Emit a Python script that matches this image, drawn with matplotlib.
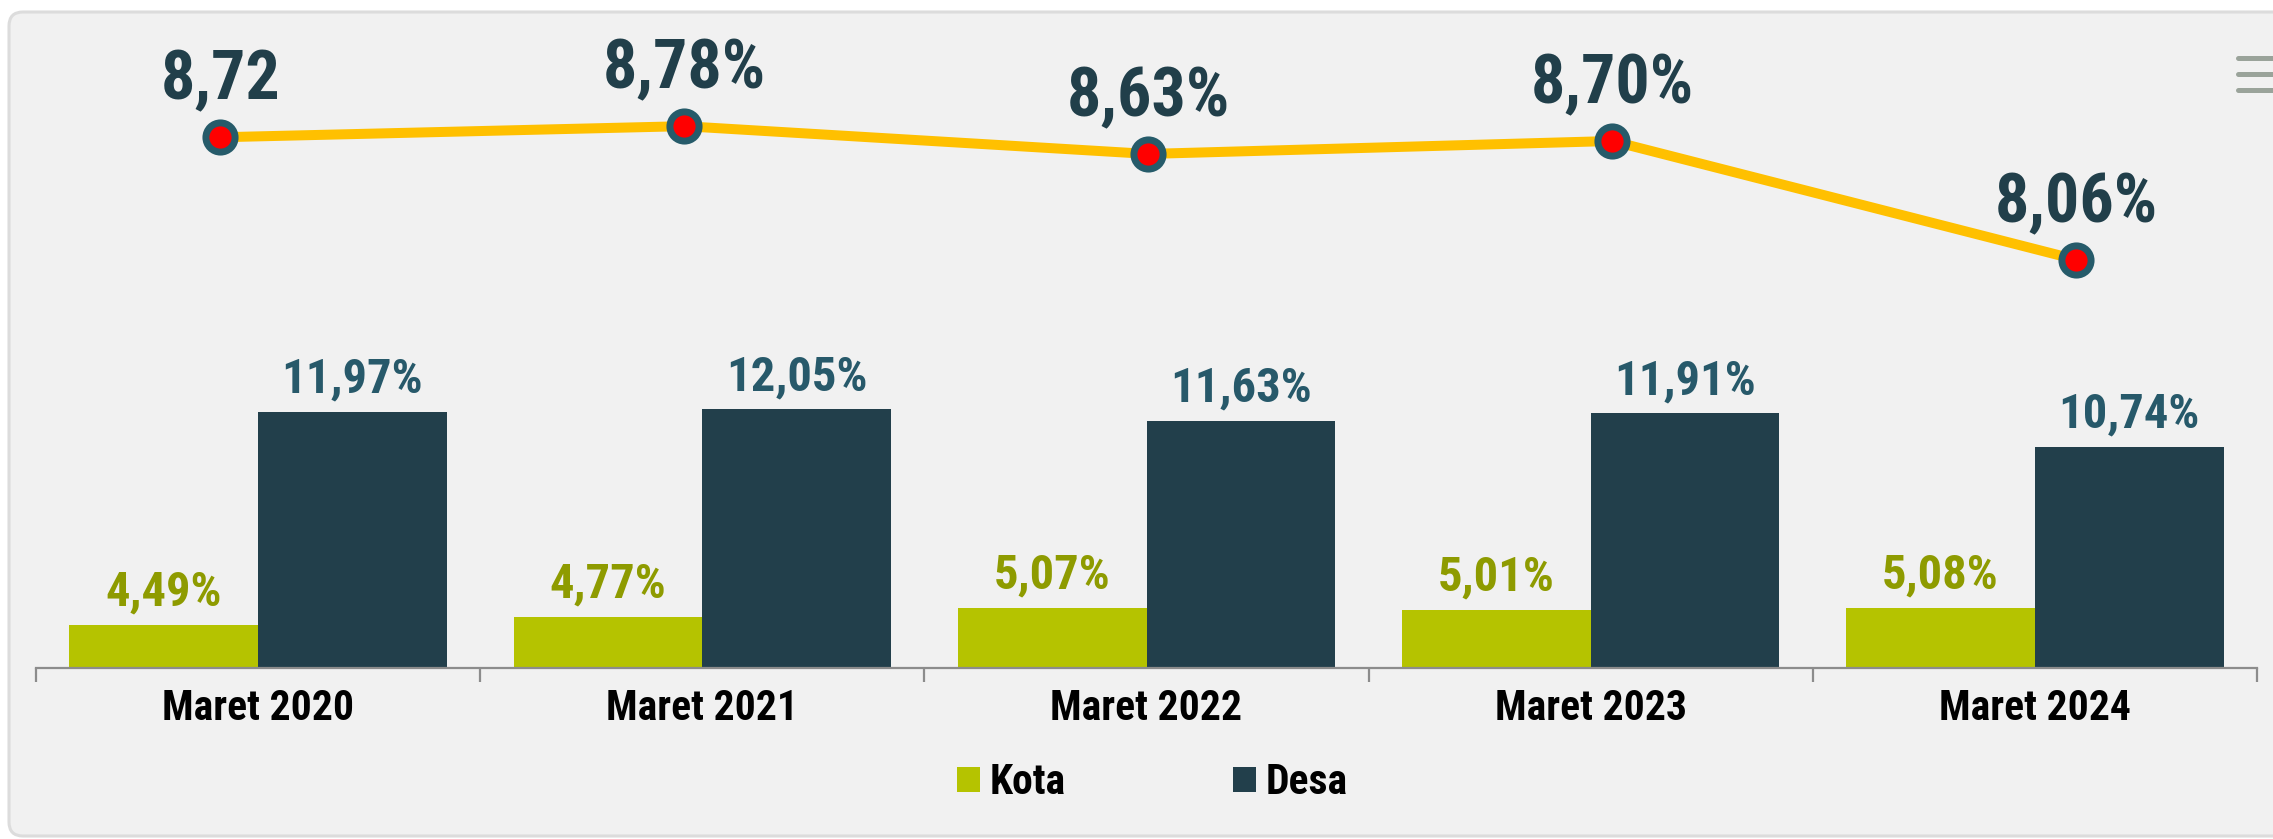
import matplotlib
matplotlib.use("Agg")
import matplotlib.pyplot as plt
from matplotlib.patches import FancyBboxPatch
from matplotlib.lines import Line2D
import numpy as np

periods = ["Maret 2020", "Maret 2021", "Maret 2022", "Maret 2023", "Maret 2024"]
kota = [4.49, 4.77, 5.07, 5.01, 5.08]
desa = [11.97, 12.05, 11.63, 11.91, 10.74]
total = [8.72, 8.78, 8.63, 8.70, 8.06]
total_labels = ["8,72", "8,78%", "8,63%", "8,70%", "8,06%"]

FONT = ["Roboto Condensed", "Liberation Sans", "DejaVu Sans"]
plt.rcParams["font.family"] = FONT
plt.rcParams["font.weight"] = "bold"

W, H = 2273, 839
fig = plt.figure(figsize=(W / 100, H / 100), dpi=100)
fig.patch.set_facecolor("white")

# panel background
panel = FancyBboxPatch((9, 3), 2300, 824, boxstyle="round,pad=0,rounding_size=14",
                       transform=None, facecolor="#f1f1f1", edgecolor="#dcdcdc",
                       linewidth=2.2, zorder=-10)
fig.patches.append(panel)

# menu icon
for yy in (58, 74, 90):
    fig.lines.append(Line2D([2238 / W, 1.02], [1 - yy / H, 1 - yy / H],
                            transform=fig.transFigure, color="#9aa39a",
                            linewidth=3.6, solid_capstyle="round"))

left, right = 36, 2257
top, base = 30, 668.3
rect = [left / W, (H - base) / H, (right - left) / W, (base - top) / H]

ax = fig.add_axes(rect)
ax.patch.set_alpha(0)
x = np.arange(len(periods))
bw = 0.425
b1 = ax.bar(x - bw / 2, kota, bw, color="#b5c300", label="Kota", zorder=2)
b2 = ax.bar(x + bw / 2, desa, bw, color="#223f4b", label="Desa", zorder=2)
ax.set_ylim(2.963, 25.37)
ax.set_xlim(-0.5, len(periods) - 0.5)

for xi, v in zip(x, kota):
    ax.annotate(f"{v:.2f}%".replace(".", ","), (xi - bw / 2, v), xytext=(0, 14),
                textcoords="offset points", ha="center", va="baseline",
                fontsize=35, fontweight="bold", color="#8e9b00")
for xi, v in zip(x, desa):
    ax.annotate(f"{v:.2f}%".replace(".", ","), (xi + bw / 2, v), xytext=(0, 14),
                textcoords="offset points", ha="center", va="baseline",
                fontsize=35, fontweight="bold", color="#27596a")

for s in ("top", "right", "left"):
    ax.spines[s].set_visible(False)
ax.spines["bottom"].set_color("#8c8c8c")
ax.spines["bottom"].set_linewidth(1.6)
ax.set_yticks([])
ax.set_xticks(np.arange(-0.5, len(periods), 1.0))
ax.set_xticklabels([])
ax.tick_params(axis="x", which="major", length=10, width=1.6, color="#8c8c8c")
ax.set_xticks(x, minor=True)
ax.set_xticklabels(periods, minor=True, fontsize=30, fontweight="bold")
ax.tick_params(axis="x", which="minor", length=0, pad=14)

# line on its own scale
ax2 = fig.add_axes(rect)
ax2.patch.set_alpha(0)
ax2.axis("off")
ax2.set_xlim(-0.397, 4.39)
ax2.set_ylim(5.854, 9.299)
ax2.plot(x, total, color="#ffc000", linewidth=7.2, zorder=3,
         marker="o", markersize=21, markerfacecolor="#ff0000",
         markeredgecolor="#265b6a", markeredgewidth=5, clip_on=False)
for xi, v, lab in zip(x, total, total_labels):
    ax2.annotate(lab, (xi, v), xytext=(0, 27), textcoords="offset points",
                 ha="center", va="baseline", fontsize=49, fontweight="bold",
                 color="#213f4a")

fig.legend(handles=[b1, b2], loc="center", bbox_to_anchor=(0.507, 1 - 783 / H),
           ncol=2, frameon=False, handlelength=0.55, handleheight=0.55,
           handletextpad=0.25, columnspacing=4.0, prop={"weight": "bold", "size": 30})

fig.savefig("out.png", dpi=100, facecolor=fig.get_facecolor())
